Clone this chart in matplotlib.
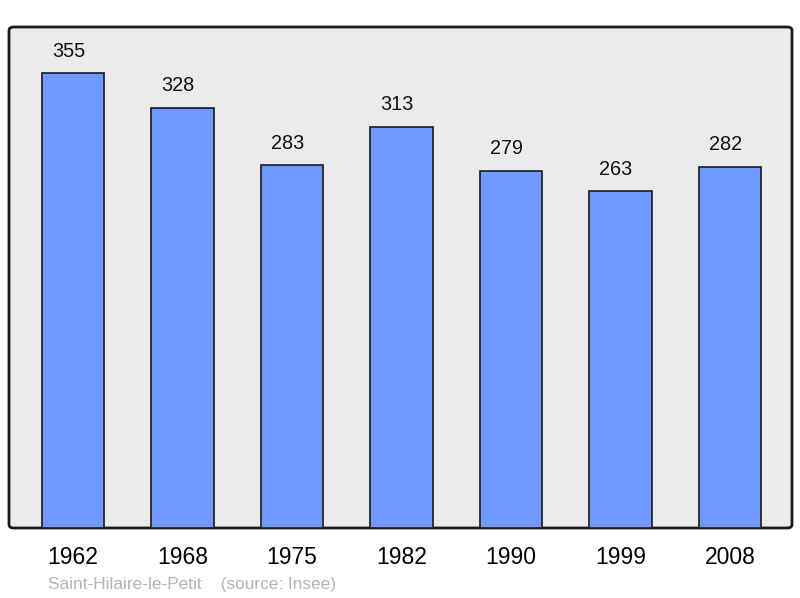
import matplotlib
matplotlib.use("Agg")
import matplotlib.pyplot as plt
from matplotlib.patches import FancyBboxPatch

years = ["1962", "1968", "1975", "1982", "1990", "1999", "2008"]
population = [355, 328, 283, 313, 279, 263, 282]
commune = "Saint-Hilaire-le-Petit"
source = "(source: Insee)"

plt.rcParams['font.family'] = ['Liberation Sans', 'DejaVu Sans']

W, H = 800, 598
fig = plt.figure(figsize=(W/100, H/100), dpi=100)
ax = fig.add_axes([9/W, 1-528/H, (792-9)/W, (528-27)/H])
ax.set_facecolor('none')

# background frame with rounded corners
frame = FancyBboxPatch((9/W, 1-528/H), (792-9)/W, (528-27)/H,
                       boxstyle="round,pad=0,rounding_size=0.006",
                       transform=fig.transFigure, facecolor='#ebebeb',
                       edgecolor='#1a1a1a', linewidth=2, zorder=-10)
fig.patches.append(frame)

x = list(range(len(years)))
ax.bar(x, population, width=0.57, color='#7099ff', edgecolor='#1a1a1a',
       linewidth=1.2, zorder=2)
for xi, v in zip(x, population):
    ax.annotate(str(v), (xi, v), xytext=(-4.5, 22), textcoords='offset pixels',
                ha='center', va='center', fontsize=14.3, color='#111111')

ax.set_xlim(-0.584, 6.566)
ax.set_ylim(0, 391)
for s in ax.spines.values():
    s.set_visible(False)
ax.set_yticks([])
ax.set_xticks(x)
ax.set_xticklabels(years, fontsize=16.5)
ax.tick_params(axis='x', length=0, pad=13)

fig.text(48/W, 1-584/H, commune + "    " + source, fontsize=12.4,
         color='#b3b3b3', ha='left', va='center')

fig.savefig("out.png", dpi=100)
